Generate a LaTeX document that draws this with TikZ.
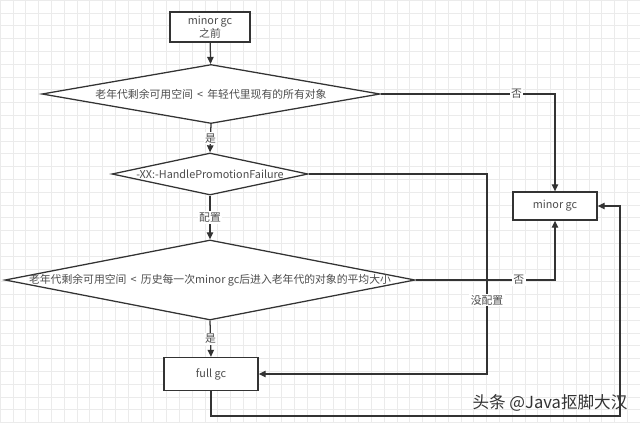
\documentclass[tikz,border=0pt]{standalone}
\usepackage{fontspec}
\setmainfont{Noto Sans CJK SC}
\usepackage{tikz}
\usetikzlibrary{shapes.geometric,arrows.meta}

\definecolor{linegray}{HTML}{333333}
\definecolor{textgray}{HTML}{4D4D4D}
\definecolor{gridgray}{HTML}{EBEBEB}

\tikzset{
  flowbox/.style={draw=linegray, line width=0.9pt, fill=white, inner sep=0pt},
  decision/.style={diamond, draw=linegray, line width=0.9pt, fill=white, inner sep=0pt},
  flowline/.style={draw=linegray, line width=0.9pt},
  flowarrow/.style={flowline, -{Triangle[length=5pt,width=4.5pt]}},
  edgelabel/.style={fill=white, inner sep=1pt, text=textgray},
}

\begin{document}
\begin{tikzpicture}[x=0.025cm, y=-0.025cm, font=\fontsize{7.7}{9}\selectfont, text=textgray]
                % Background grid
                \useasboundingbox (0,0) rectangle (640,423);
                \fill[white] (0,0) rectangle (640,423);
                \foreach \g in {0,...,50} {
                    \draw[gridgray, line width=0.4pt] ({\g*12.8},0)--({\g*12.8},423);
                }
                \foreach \g in {0,...,33} {
                    \draw[gridgray, line width=0.4pt] (0,{\g*12.8})--(640,{\g*12.8});
                }

                % Boxes
                \node[flowbox, minimum width=2cm, minimum height=0.75cm, align=center] (start) at (210,27) {minor gc\\之前};
                \node[flowbox, minimum width=2.1cm, minimum height=0.7cm] (minor) at (555,206) {minor gc};
                \node[flowbox, minimum width=2.35cm, minimum height=0.825cm] (full) at (211,374) {full gc};

                % Decisions
                \node[decision, minimum width=8.45cm, minimum height=1.475cm,
                      label={center:老年代剩余可用空间 \,<\, 年轻代里现有的所有对象}] (oldspace) at (211,94) {};
                \node[decision, minimum width=4.9cm, minimum height=1.05cm,
                      label={center:-XX:-HandlePromotionFailure}] (handle) at (210,174) {};
                \node[decision, minimum width=10.25cm, minimum height=2cm,
                      label={center:老年代剩余可用空间 \,<\, 历史每一次minor gc后进入老年代的对象的平均大小}] (average) at (210,280) {};

                % Turning points
                \coordinate (noset) at (487,174);
                \coordinate (loop) at (620,416);

                % Connectors
                \draw[flowarrow] (start)--(oldspace);
                \draw[flowarrow] (oldspace.south)--(handle.north) node[midway, edgelabel]{是};
                \draw[flowarrow] (handle.south)--(average.north) node[midway, edgelabel]{配置};
                \draw[flowarrow] (average.south)--(full.north) node[midway, edgelabel]{是};
                \draw[flowarrow] (oldspace.east) -| (minor.north) node[pos=0.39, edgelabel]{否};
                \draw[flowarrow] (handle.east)--(noset) |- (full.east) node[pos=0.315, edgelabel]{没配置};
                \draw[flowarrow] (average.east) -| (minor.south) node[pos=0.37, edgelabel]{否};
                \draw[flowarrow] (full.south) |- (loop) |- (minor.east);

                % Watermark
                \node[font=\fontsize{11.8}{13}\selectfont, text=black!80] (mark) at (550,403) {头条 @Java抠脚大汉};
            \end{tikzpicture}
\end{document}
